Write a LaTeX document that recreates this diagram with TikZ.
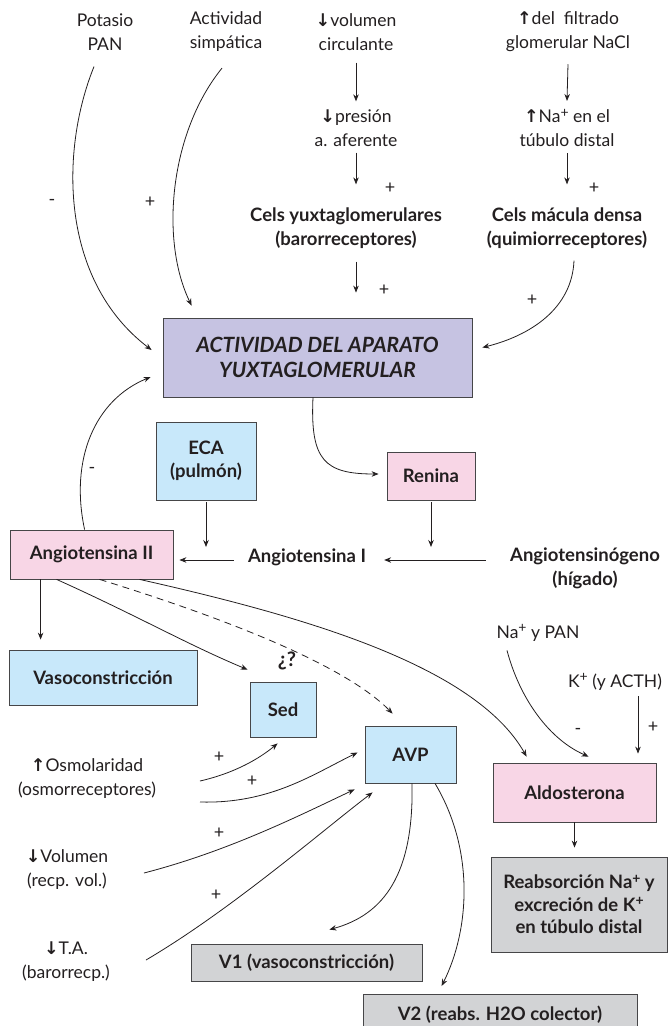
\documentclass[tikz,border=0pt]{standalone}
\usepackage{fontspec}
\setmainfont{Lato}
\newfontfamily\arrowfont{DejaVu Sans}
\usetikzlibrary{arrows.meta, calc}
\definecolor{BoxLila}{RGB}{198,195,226}
\definecolor{BoxBlue}{RGB}{200,232,250}
\definecolor{BoxPink}{RGB}{248,214,230}
\definecolor{BoxGray}{RGB}{210,211,213}
\definecolor{LineGray}{RGB}{70,70,72}
\definecolor{InkBlack}{RGB}{35,31,32}
\newcommand{\subida}{{\arrowfont\bfseries ↑}}
\newcommand{\bajada}{{\arrowfont\bfseries ↓}}
\newcommand{\mas}{\raisebox{0.6ex}{\fontsize{14}{14}\selectfont +}}

\begin{document}
\begin{tikzpicture}[
  x=1pt, y=-1pt,
  box/.style={rectangle, draw=LineGray, line width=0.8pt, align=center, inner sep=0pt,
              text=InkBlack, font=\fontsize{18.5}{22.5}\selectfont\bfseries},
  txt/.style={align=center, inner sep=0pt, text=InkBlack, font=\fontsize{17.5}{24}\selectfont},
  btxt/.style={txt, font=\fontsize{18.5}{24}\selectfont\bfseries},
  sign/.style={inner sep=0pt, text=InkBlack, font=\fontsize{18}{20}\selectfont},
  arrow/.style={-{Stealth[length=7pt, width=5.5pt]}, draw=InkBlack, line width=0.8pt}
]
\useasboundingbox (0,0) rectangle (668,1026);

% entradas de arriba
\node[txt] (potasio) at (105,32) {Potasio\\PAN};
\node[txt] (simpatica) at (226,32) {Actividad\\simpática};
\node[txt] (volumen) at (356,32) {\bajada volumen\\circulante};
\node[txt] (filtrado) at (568,32) {\subida del\ \ filtrado\\glomerular NaCl};
\node[txt] (presion) at (356,128) {\bajada presión\\a. aferente};
\node[txt] (sodio) at (567,128) {\subida Na\mas\ en el\\túbulo distal};
\node[btxt] (yuxta) at (346,228) {Cels yuxtaglomerulares\\(barorreceptores)};
\node[btxt] (macula) at (567,228) {Cels mácula densa\\(quimiorreceptores)};

\node[box, fill=BoxLila, minimum width=309pt, minimum height=79pt,
      font=\fontsize{21}{25}\selectfont\bfseries\itshape] (aparato) at (317.5,357.5)
      {ACTIVIDAD DEL APARATO\\YUXTAGLOMERULAR};

% cascada
\node[box, fill=BoxBlue, minimum width=100pt, minimum height=78pt] (eca) at (206,461) {ECA\\(pulmón)};
\node[box, fill=BoxPink, minimum width=88pt, minimum height=48pt] (renina) at (431,476) {Renina};
\node[box, fill=BoxPink, minimum width=163pt, minimum height=49pt] (angii) at (91.5,554.5) {Angiotensina II};
\node[btxt] (angi) at (307,557) {Angiotensina I};
\node[btxt] (angiogeno) at (585,568) {Angiotensinógeno\\(hígado)};

% efectos
\node[box, fill=BoxBlue, minimum width=188pt, minimum height=55pt] (vaso) at (103,677.5) {Vasoconstricción};
\node[btxt, font=\fontsize{20}{24}\selectfont\bfseries] (duda) at (287,661) {¿?};
\node[box, fill=BoxBlue, minimum width=66pt, minimum height=55pt] (sed) at (283,709.5) {Sed};
\node[box, fill=BoxBlue, minimum width=91pt, minimum height=57pt] (avp) at (410.5,754.5) {AVP};
\node[txt] (nayp) at (538,633) {Na\mas\ y PAN};
\node[txt] (acth) at (615,682) {K\mas\ (y ACTH)};
\node[box, fill=BoxPink, minimum width=163pt, minimum height=59pt] (aldo) at (574.5,792.5) {Aldosterona};
\node[box, fill=BoxGray, minimum width=176pt, minimum height=95pt] (reabs) at (579,904.5)
      {Reabsorción Na\mas\ y\\excreción de K\mas\\en túbulo distal};
\node[txt] (osmo) at (87,779) {\subida Osmolaridad\\(osmorreceptores)};
\node[txt] (volu) at (67,870) {\bajada Volumen\\(recp. vol.)};
\node[txt] (tarterial) at (66,962) {\bajada T.A.\\(barorrecp.)};
\node[box, fill=BoxGray, minimum width=231pt, minimum height=37pt] (vuno) at (306.5,962.5) {V1 (vasoconstricción)};
\node[box, fill=BoxGray, minimum width=274pt, minimum height=40pt, anchor=north] (vdos) at (500,994) {V2 (reabs. H2O colector)};

% signos
\node[sign] (s1) at (52,202) {-};
\node[sign] (s2) at (150,202) {+};
\node[sign] (s3) at (390,188) {+};
\node[sign] (s4) at (594,188) {+};
\node[sign] (s5) at (384,290) {+};
\node[sign] (s6) at (532,300) {+};
\node[sign] (s7) at (92,470) {-};
\node[sign] (s8) at (578,731) {-};
\node[sign] (s9) at (653,727) {+};
\node[sign] (s10) at (219,757) {+};
\node[sign] (s11) at (252,781) {+};
\node[sign] (s12) at (219,833) {+};
\node[sign] (s13) at (216,895) {+};

% flechas de arriba
\draw[arrow] ($(potasio.south)+(-11,16)$) .. controls +(-34,84) and +(-92,-70) .. ($(aparato.west)+(-11,-7.5)$);
\draw[arrow] ($(simpatica.south)+(-4,16)$) .. controls +(-52,64) and +(-32,-66) .. ($(aparato.north west)+(29,-12)$);
\draw[arrow] ($(volumen.south)+(0,12)$) -- ($(presion.north)+(0,-8)$);
\draw[arrow] ($(presion.south)+(0,6)$) -- ($(yuxta.north -| presion)+(0,-23)$);
\draw[arrow] ($(filtrado.south)+(0,12)$) -- ($(sodio.north)+(0,-8)$);
\draw[arrow] ($(sodio.south)+(0,6)$) -- ($(macula.north -| sodio)+(0,-23)$);
\draw[arrow] ($(yuxta.south -| presion)+(0,13)$) -- ($(aparato.north -| presion)+(0,-25)$);
\draw[arrow] ($(macula.south)+(7,12)$) .. controls +(-2,48) and +(48,-12) .. ($(aparato.east)+(10,-10)$);

% cascada
\draw[arrow] ($(aparato.south)+(-4.5,0)$) .. controls +(-3,63) and +(-54,0) .. ($(renina.west)+(-8,-2)$);
\draw[arrow] ($(eca.south)+(0,2)$) -- ($(eca.south |- angi.west)+(0,-10)$);
\draw[arrow] ($(renina.south)+(0,2)$) -- ($(renina.south |- angi.west)+(0,-10)$);
\draw[arrow] ($(angi.west)+(-14,3)$) -- ($(angi.west -| angii.east)+(6,3)$);
\draw[arrow] ($(angi.east -| angiogeno.west)+(-24,3)$) -- ($(angi.east)+(18,3)$);
\draw[arrow] ($(angii.north west)+(75,0)$) .. controls +(-15,-70) and +(-56,23) .. ($(aparato.west)+(-12,19.5)$);

% efectos de la angiotensina II
\draw[arrow] ($(angii.south west)+(31,0)$) -- ($(angii.south west |- vaso.north)+(31,-10)$);
\draw[arrow] ($(angii.south west)+(47,0)$) .. controls +(80,36) and +(-60,-25) .. ($(sed.north west)+(-2,-12)$);
\draw[arrow, dash pattern=on 7pt off 5pt] ($(angii.south west)+(90,0)$) .. controls +(100,31) and +(-53,-54) .. ($(avp.north west)+(28,-12)$);
\draw[arrow] ($(angii.south west)+(130,0)$) .. controls +(160,36) and +(-52,-92) .. ($(aldo.north west)+(34,-6)$);
\draw[arrow] ($(nayp.south)+(-31,9)$) .. controls +(13,49) and +(-39,-17) .. ($(aldo.north west)+(96,-6)$);
\draw[arrow] ($(acth.south)+(23,6)$) -- ($(acth.south |- aldo.north)+(23,-9)$);
\draw[arrow] (aldo.south) -- ($(aldo.south |- reabs.north)+(0,-9)$);

% AVP
\draw[arrow] ($(osmo)+(113,2)$) .. controls +(35,-8) and +(-18,15) .. ($(sed.south west)+(28,6)$);
\draw[arrow] ($(osmo)+(113,23)$) .. controls +(70,2) and +(-45,22) .. ($(avp.west)+(-7,-2)$);
\draw[arrow] ($(volu)+(77,3)$) .. controls +(85,-22) and +(-55,26) .. ($(avp.south west)+(-10,6)$);
\draw[arrow] ($(tarterial)+(80,-2)$) .. controls +(85,-50) and +(-50,38) .. ($(avp.south west)+(8,9)$);
\draw[arrow] ($(avp.south)+(1.5,0)$) .. controls +(2,90) and +(55,-15) .. ($(vuno.north east)+(-93,-14)$);
\draw[arrow] ($(avp.south)+(24.5,0)$) .. controls +(40,67) and +(28,-56) .. ($(vdos.north west)+(79,-8)$);
\end{tikzpicture}
\end{document}
